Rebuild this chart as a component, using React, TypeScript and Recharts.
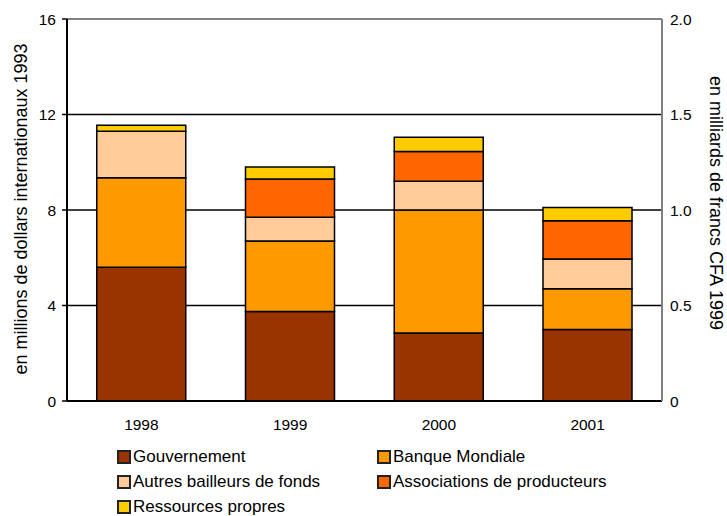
import React from 'react';
import {
  BarChart,
  Bar,
  XAxis,
  YAxis,
  CartesianGrid,
  ReferenceLine,
} from 'recharts';

const years = ['1998', '1999', '2000', '2001'];
const gouvernement = [5.6, 3.75, 2.85, 3.0];
const banqueMondiale = [3.75, 2.95, 5.15, 1.7];
const autresBailleurs = [1.95, 1.0, 1.2, 1.25];
const associations = [0, 1.6, 1.25, 1.6];
const ressources = [0.25, 0.5, 0.6, 0.55];

const leftTicks = [0, 4, 8, 12, 16];
const rightTicks = [0, 0.5, 1, 1.5, 2];
const edgeTicks = [0, 1, 2, 3, 4];

const series = [
  { key: 'gouvernement', name: 'Gouvernement', color: '#993300', values: gouvernement },
  { key: 'banque', name: 'Banque Mondiale', color: '#FF9900', values: banqueMondiale },
  { key: 'autres', name: 'Autres bailleurs de fonds', color: '#FFCC99', values: autresBailleurs },
  { key: 'associations', name: 'Associations de producteurs', color: '#FF6600', values: associations },
  { key: 'ressources', name: 'Ressources propres', color: '#FFCC00', values: ressources },
];

const data = years.map((year, i) => {
  const row: { [k: string]: string | number } = { year };
  series.forEach((s) => {
    row[s.key] = s.values[i];
  });
  return row;
});

const FONT = '"Liberation Sans", Arial, sans-serif';

const leftTitle = () => (
  <text
    x={21}
    y={209}
    transform="rotate(-90 21 209)"
    textAnchor="middle"
    dominantBaseline="central"
    fontSize={18}
    fontFamily={FONT}
    fill="#000"
  >
    en millions de dollars internationaux 1993
  </text>
);

const rightTitle = () => (
  <text
    x={716}
    y={203}
    transform="rotate(90 716 203)"
    textAnchor="middle"
    dominantBaseline="central"
    fontSize={18}
    fontFamily={FONT}
    fill="#000"
  >
    en milliards de francs CFA 1999
  </text>
);

// right axis labels: "0", "0.5", "1.0" ...
const RightTick = (props: any) => {
  const { x, y, payload } = props;
  const v = payload.value as number;
  return (
    <text
      x={x}
      y={y}
      textAnchor="start"
      dominantBaseline="central"
      fontSize={15.5}
      fontFamily={FONT}
      fill="#000"
    >
      {v === 0 ? '0' : v.toFixed(1)}
    </text>
  );
};

function LegendBox() {
  return (
    <div
      style={{
        position: 'absolute',
        left: 117,
        top: 444,
        display: 'grid',
        gridTemplateColumns: '260px 280px',
        rowGap: 0,
        fontFamily: FONT,
        fontSize: 17,
        color: '#000',
      }}
    >
      {series.map((s) => (
        <div key={s.key} style={{ display: 'flex', alignItems: 'center', height: 25 }}>
          <span
            style={{
              display: 'inline-block',
              width: 10,
              height: 10,
              background: s.color,
              border: '2px solid #222',
              marginRight: 2,
            }}
          />
          <span>{s.name}</span>
        </div>
      ))}
    </div>
  );
}

export default function App() {
  return (
    <div style={{ position: 'absolute', left: 0, top: 0, width: 727, height: 516, background: '#fff' }}>
      <BarChart
        width={727}
        height={516}
        data={data}
        margin={{ top: 19, right: 0, bottom: 85, left: 20 }}
        barCategoryGap="20%"
      >
        <CartesianGrid
          vertical={false}
          horizontalValues={[4, 8, 12]}
          stroke="#000"
          strokeWidth={1.5}
          yAxisId="left"
        />
        <XAxis
          xAxisId="edges"
          type="number"
          domain={[0, 4]}
          ticks={edgeTicks}
          tick={false}
          axisLine={false}
          tickLine={{ stroke: '#000', strokeWidth: 1.5 }}
          tickSize={5}
          height={0}
        />
        <XAxis
          dataKey="year"
          xAxisId="cat"
          axisLine={{ stroke: '#000', strokeWidth: 2 }}
          tickLine={false}
          tickSize={6}
          tickMargin={12}
          height={30}
          tick={{ fontSize: 15.5, fill: '#000', fontFamily: FONT }}
        />
        <YAxis
          yAxisId="left"
          domain={[0, 16]}
          ticks={leftTicks}
          width={47}
          axisLine={{ stroke: '#000', strokeWidth: 2 }}
          tickLine={{ stroke: '#000', strokeWidth: 1.5 }}
          tickSize={5}
          tickMargin={6}
          tick={{ fontSize: 15.5, fill: '#000', fontFamily: FONT }}
          label={leftTitle}
        />
        <YAxis
          yAxisId="right"
          orientation="right"
          type="number"
          domain={[0, 2]}
          ticks={rightTicks}
          allowDataOverflow
          width={65}
          axisLine={{ stroke: '#808080', strokeWidth: 2 }}
          tickLine={false}
          tickSize={2}
          tickMargin={6}
          tick={<RightTick />}
          label={rightTitle}
        />
        <ReferenceLine
          yAxisId="right"
          xAxisId="cat"
          y={2}
          stroke="#808080"
          strokeWidth={2}
          ifOverflow="extendDomain"
        />
        {series.map((s) => (
          <Bar
            key={s.key}
            dataKey={s.key}
            name={s.name}
            stackId="total"
            xAxisId="cat"
            yAxisId="left"
            fill={s.color}
            stroke="#000"
            strokeWidth={1.5}
            isAnimationActive={false}
          />
        ))}
      </BarChart>
      <LegendBox />
    </div>
  );
}
